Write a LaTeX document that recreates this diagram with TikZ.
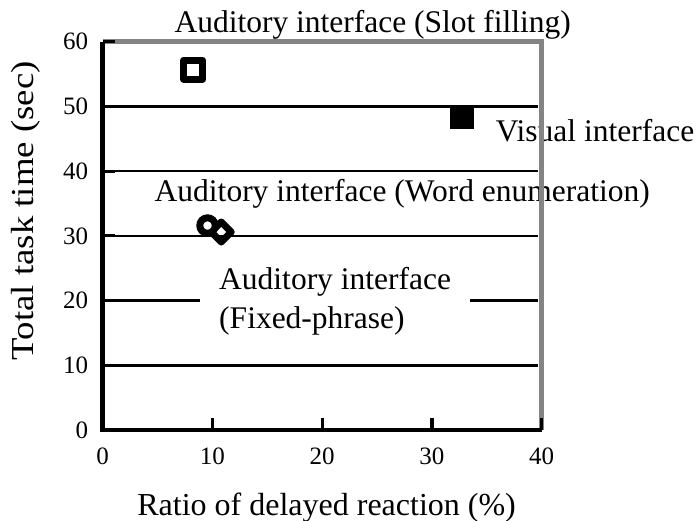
\documentclass[tikz,border=0pt]{standalone}
\usepackage{fontspec}
\setmainfont{Liberation Serif}
\usepackage{tikz}
\usetikzlibrary{shapes.geometric}
\definecolor{framegray}{RGB}{132,132,132}
\tikzset{
  font={\fontsize{25pt}{30pt}\selectfont}}

\begin{document}
\begin{tikzpicture}[x=10.975pt,y=6.47pt]
\tikzstyle{every node}+=[inner sep=0pt]
\tikzstyle{gridline}=[black,line width=2.6pt]
\tikzstyle{axisline}=[black,line width=4.5pt]
\tikzstyle{frameline}=[framegray,line width=5pt]
\tikzstyle{tickline}=[black,line width=3.2pt]
\tikzstyle{label}=[font={\fontsize{31.5pt}{39pt}\selectfont}]
\tikzstyle{title}=[font={\fontsize{32pt}{38pt}\selectfont}]
\tikzstyle{marker}=[line width=7pt,line join=round,inner sep=0pt,outer sep=0pt]
\useasboundingbox (-102.7pt,-91pt) rectangle (596.3pt,430pt);
% grid
\draw [gridline] (0,10) -- (39.7,10);
\draw [gridline] (0,20) -- (39.7,20);
\draw [gridline] (0,30) -- (39.7,30);
\draw [gridline] (0,40) -- (39.7,40);
\draw [gridline] (0,50) -- (39.7,50);
% series labels
\node [label,fill=white,inner xsep=19pt,inner ysep=3pt,align=left,anchor=west] (fixed) at (8.87,19.9) {Auditory interface\\(Fixed-phrase)};
\node [label,anchor=base] (slot) at (24.6,61.4) {Auditory interface (Slot filling)};
\node [label,anchor=base] (visual) at (44.86,44.56) {Visual interface};
\node [label,anchor=base] (word) at (27.3,35.3) {Auditory interface (Word enumeration)};
% data points
\node [marker,draw,diamond,aspect=1,minimum size=20pt] (fixedpt) at (10.8,30.6) {};
\node [marker,draw,fill=white,circle,minimum size=15.5pt] (wordpt) at (9.55,31.6) {};
\node [marker,draw,rectangle,minimum size=19pt] (slotpt) at (8.25,55.7) {};
\node [fill=black,rectangle,minimum size=24pt] (visualpt) at (32.7,48.4) {};
% frame and axes
\draw [frameline] (0,60) -- (40,60) -- (40,0);
\draw [axisline] (0,60) -- (0,0) -- (40,0);
\draw [tickline] (0,0) -- (1.1,0);
\draw [tickline] (0,10) -- (1.1,10);
\draw [tickline] (0,20) -- (1.1,20);
\draw [tickline] (0,30) -- (1.1,30);
\draw [tickline] (0,40) -- (1.1,40);
\draw [tickline] (0,50) -- (1.1,50);
\draw [tickline] (0,60) -- (1.1,60);
\draw [tickline] (10,0) -- (10,1.9);
\draw [tickline] (20,0) -- (20,1.9);
\draw [tickline] (30,0) -- (30,1.9);
\draw [tickline] (40,0) -- (40,1.9);
% tick labels
\node [anchor=east] (y0) at (-1.3,0) {0};
\node [anchor=east] (y10) at (-1.3,10) {10};
\node [anchor=east] (y20) at (-1.3,20) {20};
\node [anchor=east] (y30) at (-1.3,30) {30};
\node [anchor=east] (y40) at (-1.3,40) {40};
\node [anchor=east] (y50) at (-1.3,50) {50};
\node [anchor=east] (y60) at (-1.3,60) {60};
\node (x0) at (0,-4.1) {0};
\node (x10) at (10,-4.1) {10};
\node (x20) at (20,-4.1) {20};
\node (x30) at (30,-4.1) {30};
\node (x40) at (40,-4.1) {40};
% axis titles
\node [title,anchor=base] (xtitle) at (20.4,-13.2) {Ratio of delayed reaction (\%)};
\node [title,rotate=90] (ytitle) at (-7.0,33.9) {\scalebox{1.15}[1]{Total task time (sec)}};
\end{tikzpicture}
\end{document}
